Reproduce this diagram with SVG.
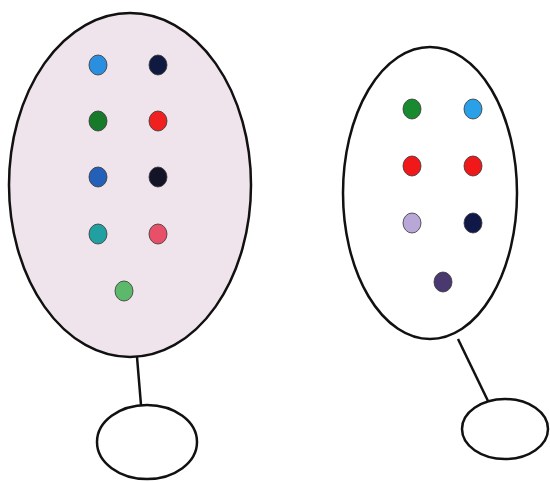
<svg xmlns="http://www.w3.org/2000/svg" width="550" height="482" viewBox="0 0 550 482">
<style>
.o{fill:none;stroke:#111;stroke-width:2.5}
.c{stroke:#111;stroke-width:2.5}
.d{stroke:#333;stroke-width:0.8}
</style>
<rect width="550" height="482" fill="#fff"/>
<g id="connectors">
<line class="c" x1="137" y1="357" x2="141" y2="405"/>
<line class="c" x1="458" y1="339" x2="488" y2="401"/>
</g>
<g id="setA">
<ellipse cx="130" cy="185" rx="121" ry="172" fill="#f0e4ec" stroke="#111" stroke-width="2.5"/>
<ellipse class="d" cx="98" cy="65" rx="9" ry="10" fill="#2b8fe0"/>
<ellipse class="d" cx="158" cy="65" rx="9" ry="10" fill="#101a40"/>
<ellipse class="d" cx="98" cy="121" rx="9" ry="10" fill="#167a2a"/>
<ellipse class="d" cx="158" cy="121" rx="9" ry="10" fill="#f02020"/>
<ellipse class="d" cx="98" cy="177" rx="9" ry="10" fill="#2460b8"/>
<ellipse class="d" cx="158" cy="177" rx="9" ry="10" fill="#141428"/>
<ellipse class="d" cx="98" cy="234" rx="9" ry="10" fill="#20a0a0"/>
<ellipse class="d" cx="158" cy="234" rx="9" ry="10" fill="#e8506a"/>
<ellipse class="d" cx="124" cy="291" rx="9" ry="10" fill="#5cb86a"/>
</g>
<g id="setB">
<ellipse class="o" cx="430" cy="193" rx="87" ry="146"/>
<ellipse class="d" cx="412" cy="109" rx="9" ry="10" fill="#1a8a30"/>
<ellipse class="d" cx="473" cy="109" rx="9" ry="10" fill="#2aa0e8"/>
<ellipse class="d" cx="412" cy="166" rx="9" ry="10" fill="#f01818"/>
<ellipse class="d" cx="473" cy="166" rx="9" ry="10" fill="#f01818"/>
<ellipse class="d" cx="412" cy="223" rx="9" ry="10" fill="#b8a8d8"/>
<ellipse class="d" cx="473" cy="223" rx="9" ry="10" fill="#101848"/>
<ellipse class="d" cx="443" cy="282" rx="9" ry="10" fill="#4a3870"/>
</g>
<g id="labelA">
<ellipse class="o" cx="147" cy="442" rx="50" ry="37"/>
</g>
<g id="labelB">
<ellipse class="o" cx="505" cy="429" rx="43" ry="30"/>
</g>
</svg>
